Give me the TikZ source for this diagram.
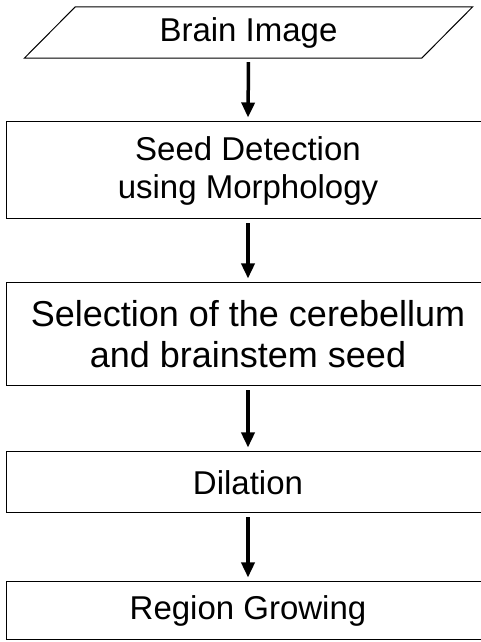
\documentclass[tikz,border=0pt]{standalone}
\usepackage{fontspec}
\setmainfont{Liberation Sans}
\usepackage{tikz}
\usetikzlibrary{positioning,arrows.meta}

\tikzset{
  stepbox/.style={draw,line width=1pt,minimum width=484pt,align=center,inner sep=0pt},
  flowarrow/.style={line width=3.5pt,-{Triangle[length=15pt,width=13pt]},shorten <=4pt,shorten >=4pt},
}

\begin{document}
\begin{tikzpicture}[x=1pt,y=1pt,font=\fontsize{33}{38}\selectfont]
				\useasboundingbox (0,0) rectangle (481,642);
				% input (parallelogram)
				\node[minimum width=397pt,minimum height=51pt,inner sep=0pt] (img) at (248.5,609.5) {Brain Image};
				\draw[line width=1pt] ([xshift=-25.5pt]img.south west) -- ([xshift=25.5pt]img.north west)
					-- ([xshift=25.5pt]img.north east) -- ([xshift=-25.5pt]img.south east) -- cycle;
				% processing steps
				\node[stepbox,minimum height=97pt] (seed) at (248,471.5) {Seed Detection\\using Morphology};
				\node[stepbox,minimum height=103pt,font=\fontsize{36}{41}\selectfont] (sel) at (248,307.5) {Selection of the cerebellum\\and brainstem seed};
				\node[stepbox,minimum height=61pt] (dil) at (248,159.5) {Dilation};
				\node[stepbox,minimum height=58pt] (grow) at (248,31) {Region Growing};
				% arrows
				\foreach \a/\b in {img/seed,seed/sel,sel/dil,dil/grow}{
					\draw[flowarrow] (\a.south) -- (\b.north);
				}
			\end{tikzpicture}
\end{document}
